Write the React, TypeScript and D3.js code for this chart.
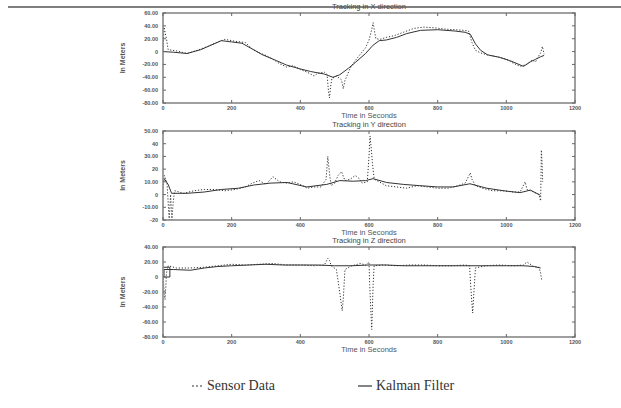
import React from "react";
import * as d3 from "d3";

type Pt = [number, number];

const xTicks = [0, 200, 400, 600, 800, 1000, 1200];
const xTickLabels = ["0", "200", "400", "600", "800", "1000", "1200"];

const titles = ["Tracking in X direction", "Tracking in Y direction", "Tracking in Z direction"];
const xLabel = "Time in Seconds";
const yLabel = "In Meters";

const yTicksX = [60, 40, 20, 0, -20, -40, -60, -80];
const yTickLabelsX = ["60.00", "40.00", "20.00", "0", "-20.00", "-40.00", "-60.00", "-80.00"];
const yTicksY = [50, 40, 30, 20, 10, 0, -10, -20];
const yTickLabelsY = ["50.00", "40", "30.00", "20", "10.00", "0", "-10.00", "-20"];
const yTicksZ = [40, 20, 0, -20, -40, -60, -80];
const yTickLabelsZ = ["40.00", "20.00", "0", "-20.00", "-40.00", "-60.00", "-80.00"];

const sensorX: Pt[] = [[0,2],[3,38],[6,30],[10,20],[15,3],[40,1],[70,-3],[100,2],[130,8],[160,15],[180,19],[210,16],[240,14],[260,4],[280,-2],[300,-6],[320,-12],[340,-19],[360,-24],[380,-22],[400,-28],[420,-32],[440,-38],[450,-34],[470,-32],[478,-36],[482,-62],[485,-72],[488,-55],[492,-42],[505,-38],[520,-44],[525,-58],[530,-45],[545,-26],[560,-14],[575,-4],[590,6],[600,18],[606,30],[612,45],[616,32],[620,20],[632,19],[650,22],[675,25],[700,30],[730,36],[760,38],[790,37],[820,35],[850,34],[875,33],[890,32],[900,14],[910,2],[925,-2],[950,-6],[975,-8],[1000,-12],[1020,-18],[1040,-23],[1060,-20],[1075,-13],[1085,-16],[1095,-6],[1100,-2],[1105,8],[1110,-4]];
const kalmanX: Pt[] = [[0,0],[30,-1],[70,-3],[110,3],[140,10],[170,17],[200,15],[230,13],[260,4],[290,-5],[330,-14],[360,-21],[400,-27],[430,-31],[470,-35],[495,-40],[515,-36],[540,-26],[560,-17],[590,-3],[612,10],[630,17],[650,18],[680,22],[710,28],[750,33],[800,34],[850,32],[880,30],[895,27],[910,12],[925,2],[945,-5],[980,-9],[1010,-14],[1050,-23],[1070,-16],[1085,-12],[1100,-8],[1110,-6]];

const sensorY: Pt[] = [[0,5],[4,15],[8,12],[12,8],[18,-20],[22,0],[26,-20],[30,-5],[34,3],[60,1],[90,3],[120,4],[150,4],[180,3],[210,4],[240,6],[260,9],[280,11],[300,8],[320,14],[340,10],[360,9],[380,10],[400,8],[420,5],[440,6],[460,6],[475,12],[480,30],[483,22],[486,14],[490,7],[500,9],[510,15],[520,18],[530,11],[545,12],[560,15],[570,13],[580,9],[595,10],[600,30],[603,46],[606,38],[610,25],[615,12],[630,10],[650,7],[680,6],[710,5],[740,7],[770,6],[800,5],[830,5],[860,7],[880,9],[895,17],[900,12],[910,7],[930,5],[960,3],[990,3],[1020,2],[1040,2],[1055,10],[1060,4],[1080,2],[1095,0],[1100,-5],[1102,35],[1104,25],[1106,10]];
const kalmanY: Pt[] = [[0,10],[5,12],[15,8],[25,1],[70,1],[120,2],[170,4],[220,5],[264,7.5],[312,9],[361,9.5],[419,6],[477,8],[515,11],[554,10.5],[590,11],[612,12.5],[651,9.5],[700,8],[748,7],[800,6],[845,6],[894,8.5],[943,5],[992,3],[1040,1.5],[1070,3.5],[1099,-0.5]];

const sensorZ: Pt[] = [[0,10],[2,-10],[4,-25],[6,-30],[8,-15],[10,5],[15,15],[40,12],[80,12],[120,13],[160,15],[200,17],[240,16],[280,17],[320,18],[360,16],[400,16],[440,15],[470,16],[480,25],[485,22],[490,15],[505,10],[510,-5],[513,-15],[516,-25],[519,-35],[522,-45],[525,-30],[530,10],[550,15],[575,18],[590,16],[600,20],[602,-10],[604,-30],[606,-50],[608,-70],[610,-40],[612,-10],[615,15],[640,16],[680,15],[720,16],[760,16],[800,15],[840,15],[880,16],[893,15],[896,-10],[899,-30],[902,-48],[905,-25],[910,12],[940,15],[980,16],[1020,15],[1050,16],[1060,20],[1080,14],[1095,13],[1100,5],[1103,-4]];
const kalmanZ: Pt[] = [[0,13],[20,13],[20,0],[3,0],[3,10],[30,10],[80,9],[120,12],[160,14],[200,15],[250,16],[300,17],[350,16],[400,16],[450,16],[500,15],[550,15],[600,16],[650,16],[700,15],[750,15],[800,15],[850,15],[900,15],[950,15],[1000,15],[1050,15],[1080,14],[1100,12]];

const legendLabels = ["Sensor Data", "Kalman Filter"];

const panels = [
  { top: 13, bottom: 103, ticks: yTicksX, labels: yTickLabelsX, sensor: sensorX, kalman: kalmanX, title: titles[0] },
  { top: 131, bottom: 220, ticks: yTicksY, labels: yTickLabelsY, sensor: sensorY, kalman: kalmanY, title: titles[1] },
  { top: 247, bottom: 337, ticks: yTicksZ, labels: yTickLabelsZ, sensor: sensorZ, kalman: kalmanZ, title: titles[2] },
];

const LEFT = 163;
const RIGHT = 575;
const FONT = "Liberation Sans, Arial, sans-serif";

function Panel({ p }: { p: typeof panels[number] }) {
  const x = d3.scaleLinear().domain([0, 1200]).range([LEFT, RIGHT]);
  const y = d3.scaleLinear().domain([d3.min(p.ticks)!, d3.max(p.ticks)!]).range([p.bottom, p.top]);
  const line = d3.line<Pt>().x((d) => x(d[0])).y((d) => y(d[1]));
  const midY = (p.top + p.bottom) / 2;
  return (
    <g>
      <text x={(LEFT + RIGHT) / 2} y={p.top - 4} textAnchor="middle" fontSize={7.5} fontFamily={FONT} fill="#444">{p.title}</text>
      <clipPath id={`clip${p.top}`}>
        <rect x={LEFT} y={p.top} width={RIGHT - LEFT} height={p.bottom - p.top} />
      </clipPath>
      <g clipPath={`url(#clip${p.top})`}>
        <path d={line(p.sensor) || ""} fill="none" stroke="#333" strokeWidth={1} strokeDasharray="1.2,1.8" />
        <path d={line(p.kalman) || ""} fill="none" stroke="#333" strokeWidth={1} />
      </g>
      <rect x={LEFT} y={p.top} width={RIGHT - LEFT} height={p.bottom - p.top} fill="none" stroke="#888" strokeWidth={1.6} />
      {p.ticks.map((t, i) => (
        <g key={t}>
          <line x1={LEFT} x2={LEFT + 3} y1={y(t)} y2={y(t)} stroke="#666" />
          <line x1={RIGHT - 3} x2={RIGHT} y1={y(t)} y2={y(t)} stroke="#666" />
          <text x={LEFT - 5} y={y(t) + 2} textAnchor="end" fontSize={5.5} fontWeight="bold" fontFamily={FONT} fill="#555">{p.labels[i]}</text>
        </g>
      ))}
      {xTicks.map((t, i) => (
        <g key={t}>
          <line x1={x(t)} x2={x(t)} y1={p.top} y2={p.top + 3} stroke="#666" />
          <line x1={x(t)} x2={x(t)} y1={p.bottom - 3} y2={p.bottom} stroke="#666" />
          <text x={x(t)} y={p.bottom + 7} textAnchor="middle" fontSize={5.5} fontWeight="bold" fontFamily={FONT} fill="#555">{xTickLabels[i]}</text>
        </g>
      ))}
      <text x={(LEFT + RIGHT) / 2} y={p.bottom + 15} textAnchor="middle" fontSize={7.5} fontFamily={FONT} fill="#555">{xLabel}</text>
      <text transform={`translate(125,${midY}) rotate(-90)`} textAnchor="middle" fontSize={7} fontWeight="bold" fontFamily={FONT} fill="#555">{yLabel}</text>
    </g>
  );
}

export default function App() {
  return (
    <svg width={621} height={408} style={{ position: "absolute", left: 0, top: 0, background: "#fff" }}>
      <rect width={621} height={408} fill="#fff" />
      {panels.map((p) => (
        <Panel key={p.top} p={p} />
      ))}
      <line x1={8} x2={621} y1={7} y2={7} stroke="#555" strokeWidth={1.5} />
      <g fontFamily="Liberation Serif, Times New Roman, serif" fontSize={14} fill="#333">
        <line x1={192} x2={204} y1={386} y2={386} stroke="#333" strokeWidth={1.2} strokeDasharray="2,2" />
        <text x={207} y={390}>{legendLabels[0]}</text>
        <line x1={358} x2={372} y1={386} y2={386} stroke="#333" strokeWidth={1.2} />
        <text x={376} y={390}>{legendLabels[1]}</text>
      </g>
    </svg>
  );
}
